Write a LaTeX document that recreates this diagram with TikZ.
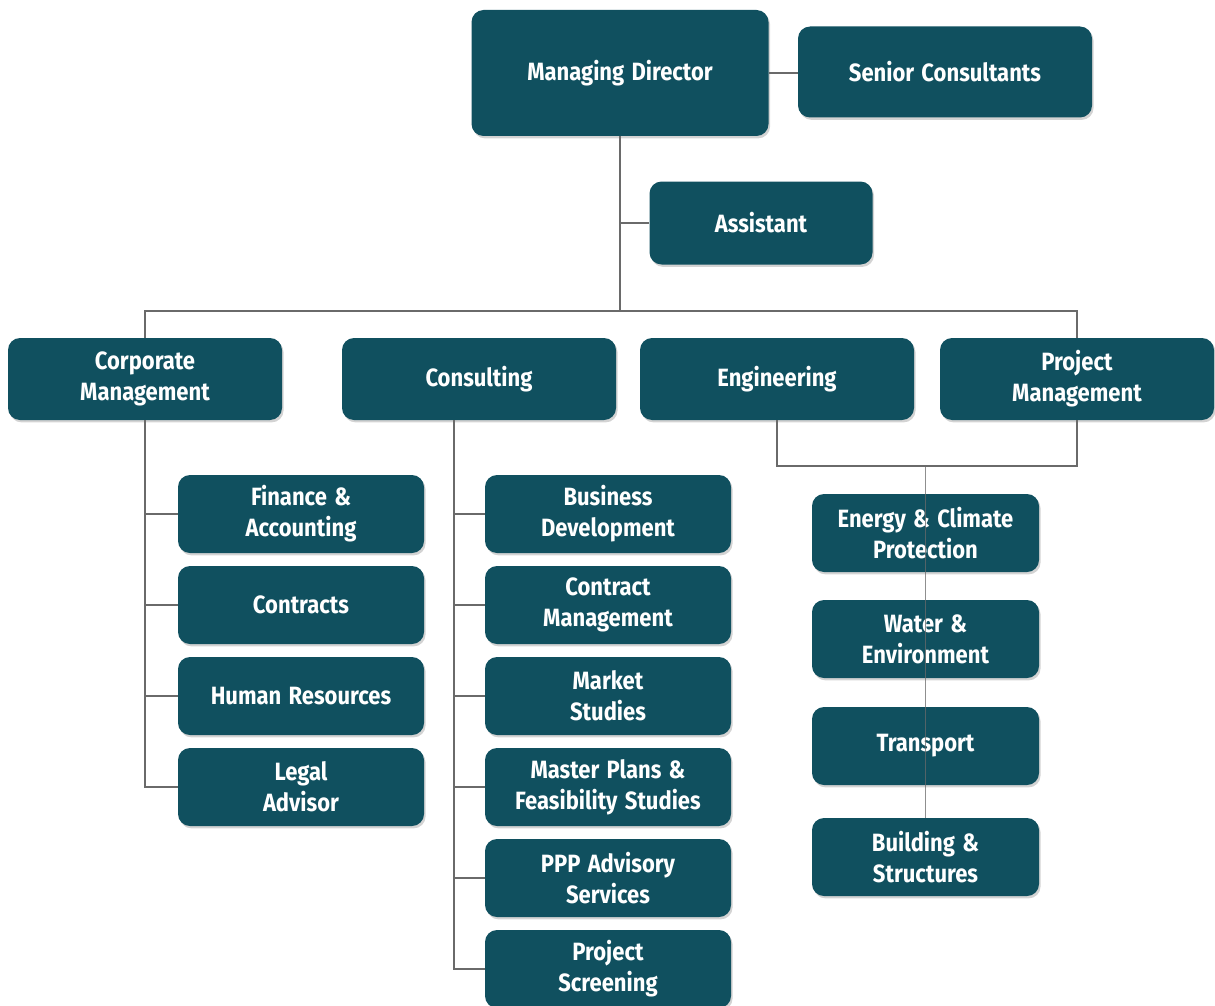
\documentclass[tikz,border=0pt]{standalone}
\usepackage{fontspec}
\setmainfont{Fira Sans}[FakeStretch=0.88,WordSpace=1.4]
\usetikzlibrary{positioning,shadows}
\definecolor{boxblue}{HTML}{10505F}
\definecolor{linegray}{HTML}{6A6A6A}
\tikzset{
  unit/.style={fill=boxblue, rounded corners=6pt, text=white, align=center,
    inner sep=0pt, font=\bfseries\fontsize{12.5}{15.5}\selectfont,
    drop shadow={opacity=0.35, shadow xshift=0.8pt, shadow yshift=-1.2pt}},
  head/.style={unit, minimum width=148.5pt, minimum height=63pt},
  side/.style={unit, minimum width=147pt, minimum height=45.5pt},
  aide/.style={unit, minimum width=111.5pt, minimum height=41.5pt},
  dept/.style={unit, minimum width=137pt, minimum height=41pt},
  sub/.style={unit, minimum width=123pt, minimum height=39pt},
  tech/.style={unit, minimum width=113.5pt, minimum height=39pt},
  link/.style={draw=linegray, line width=0.8pt}
}

\begin{document}
\begin{tikzpicture}[x=0.5pt,y=-0.5pt,node distance=45.5pt,on grid]
   \useasboundingbox (0,0) rectangle (1215,1006);
   % top level
   \node[head] (md)  at (620,73)  {Managing Director};
   \node[side] (sc)  at (945,72)  {Senior Consultants};
   \node[aide] (ast) at (761,223) {Assistant};
   % departments
   \node[dept] (corp) at (145,379)  {Corporate\\Management};
   \node[dept] (cons) at (479,379)  {Consulting};
   \node[dept] (eng)  at (777,379)  {Engineering};
   \node[dept] (pm)   at (1077,379) {Project\\Management};
   % corporate management
   \node[sub] (fin)   at (301,514)   {Finance \&\\Accounting};
   \node[sub] (ctr)   [below=of fin] {Contracts};
   \node[sub] (hr)    [below=of ctr] {Human Resources};
   \node[sub] (legal) [below=of hr]  {Legal\\Advisor};
   % consulting
   \node[sub] (bd)    at (608,514)   {Business\\Development};
   \node[sub] (cm)    [below=of bd]  {Contract\\Management};
   \node[sub] (ms)    [below=of cm]  {Market\\Studies};
   \node[sub] (mp)    [below=of ms]  {Master Plans \&\\Feasibility Studies};
   \node[sub] (ppp)   [below=of mp]  {PPP Advisory\\Services};
   \node[sub] (ps)    [below=of ppp] {Project\\Screening};
   % engineering
   \node[tech] (ecp)  at (925.5,533) {Energy \& Climate\\Protection};
   \node[tech] (we)   at (925.5,639) {Water \&\\Environment};
   \node[tech] (tr)   at (925.5,746) {Transport};
   \node[tech] (bs)   at (925.5,857) {Building \&\\Structures};
   % junctions
   \coordinate (hub)     at (620,311);
   \coordinate (consbar) at (454,420);
   \coordinate (engjoin) at (925.5,466);
   % connectors
   \draw[link] (md.east) -- (md.east -| sc.west);
   \draw[link] (md.south) -- (hub);
   \draw[link] (ast.west) -- (ast.west -| hub);
   \draw[link] (corp.north) |- (hub) -| (pm.north);
   \foreach \n in {fin,ctr,hr,legal}
      \draw[link] (corp.south) |- (\n.west);
   \foreach \n in {bd,cm,ms,mp,ppp,ps}
      \draw[link] (consbar) |- (\n.west);
   \draw[link] (eng.south) |- (engjoin) -| (pm.south);
   \draw[link, draw opacity=0.75] (engjoin) -- (bs.north);
\end{tikzpicture}
\end{document}
